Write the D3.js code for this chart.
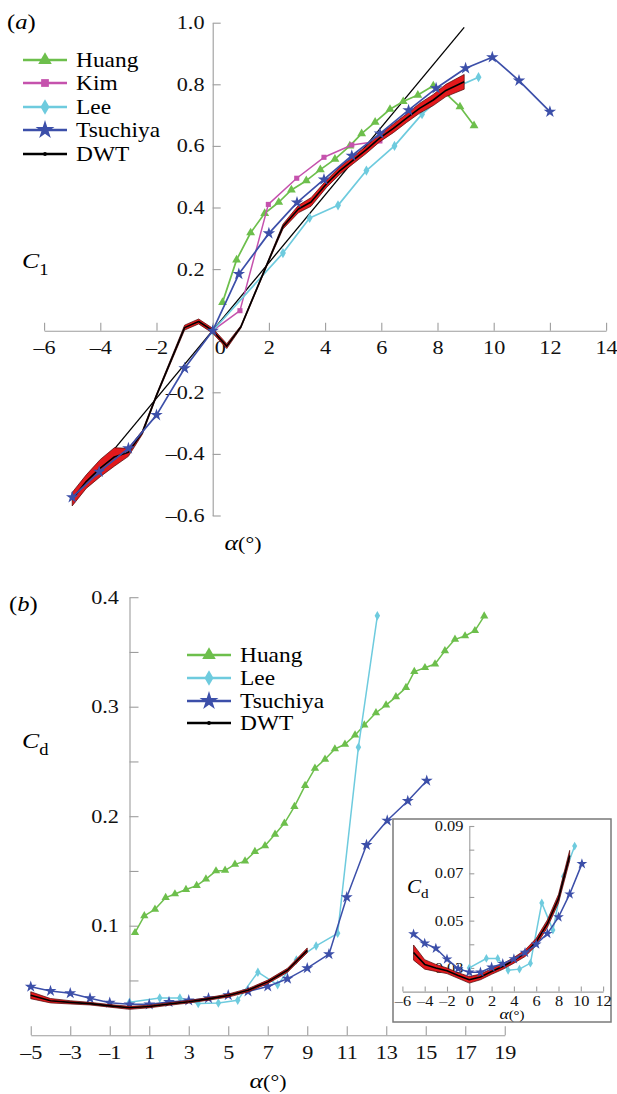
<!DOCTYPE html>
<html>
<head>
<meta charset="utf-8">
<script src="https://cdn.jsdelivr.net/npm/d3@7"></script>
<style>
  body { margin: 0; background: #fff; }
  svg { display: block; font-family: "Liberation Serif", "Times New Roman", serif; }
</style>
</head>
<body>
<svg id="fig" width="617" height="1094"></svg>
<script>
// ---- panel (a): lift coefficient vs angle of attack ----
const huangA = [[0.35,0.092],[0.85,0.23],[1.35,0.318],[1.85,0.381],[2.35,0.417],[2.8,0.457],
  [3.33,0.487],[3.83,0.523],[4.35,0.557],[4.88,0.60],[5.3,0.64],[5.78,0.677],[6.31,0.719],
  [6.78,0.744],[7.3,0.765],[7.85,0.795],[8.3,0.77],[8.8,0.727],[9.3,0.666]];
const kimA = [[0,0],[0.97,0.065],[1.98,0.41],[2.99,0.495],[3.96,0.563],[4.95,0.603],[5.95,0.616]];
const leeA = [[0,0],[2.5,0.252],[3.45,0.366],[4.46,0.407],[5.47,0.52],[6.47,0.60],[7.45,0.703],
  [8.42,0.781],[9.46,0.823]];
const tsuchiyaA = [[-5,-0.541],[-4.04,-0.458],[-3,-0.382],[-2,-0.274],[-1,-0.122],[0,0],[0.93,0.184],
  [2,0.316],[3,0.416],[3.96,0.491],[4.95,0.568],[5.95,0.64],[6.97,0.716],[7.95,0.787],[9,0.852],
  [9.95,0.888],[10.9,0.812],[12,0.711]];
// DWT: [alpha, mean, half width of the red band]
const dwtA = [[-5,-0.547,0.022],[-4.5,-0.49,0.022],[-4,-0.446,0.028],[-3.5,-0.41,0.03],[-3,-0.395,0.013],
  [-2.5,-0.33,0.006],[-2,-0.21,0.004],[-1,0.01,0.008],[-0.5,0.03,0.008],[0,0,0.008],[0.5,-0.05,0.008],
  [1,0.012,0.004],[2,0.23,0.004],[2.5,0.338,0.008],[3.05,0.395,0.012],[3.5,0.418,0.014],[4.06,0.478,0.012],
  [4.53,0.52,0.012],[5,0.554,0.012],[5.46,0.587,0.012],[5.94,0.625,0.012],[6.43,0.657,0.014],
  [6.9,0.69,0.014],[7.36,0.722,0.016],[7.85,0.749,0.018],[8.3,0.78,0.02],[8.95,0.808,0.024]];
// thin straight reference line
const thinA = [[-5,-0.549],[8.95,0.985]];
const xTicksA = [-6,-4,-2,0,2,4,6,8,10,12,14];
const yTicksA = [-0.6,-0.4,-0.2,0.2,0.4,0.6,0.8,1.0];

// ---- panel (b): drag coefficient vs angle of attack ----
const huangB = [[0.28,0.0936],[0.75,0.109],[1.29,0.115],[1.83,0.1256],[2.3,0.129],[2.86,0.133],
  [3.4,0.1366],[3.87,0.1426],[4.38,0.15],[4.84,0.1505],[5.34,0.156],[5.85,0.159],[6.35,0.1676],
  [6.86,0.173],[7.37,0.1835],[7.84,0.1935],[8.35,0.2087],[8.89,0.228],[9.39,0.2437],[9.9,0.252],
  [10.4,0.2614],[10.91,0.2657],[11.42,0.274],[11.89,0.2833],[12.48,0.2945],[12.99,0.3015],
  [13.49,0.309],[14.0,0.3174],[14.42,0.332],[14.96,0.3356],[15.47,0.339],[15.97,0.351],
  [16.48,0.3615],[16.99,0.3646],[17.49,0.3694],[17.96,0.3828]];
const leeB = [[0,0.03],[1.53,0.034],[2.55,0.034],[3.48,0.029],[4.5,0.0295],[5.48,0.032],[6.5,0.0575],
  [7.5,0.046],[8.45,0.0687],[9.45,0.0815],[10.54,0.093],[11.59,0.263],[12.55,0.383]];
const tsuchiyaB = [[-5,0.0443],[-4,0.0404],[-3,0.0383],[-2,0.0337],[-1,0.0297],[0,0.0282],[1,0.0282],
  [2,0.0303],[3,0.0318],[4,0.0338],[5,0.0365],[6,0.0400],[7,0.0445],[8,0.0515],[9,0.0612],
  [10.1,0.074],[11,0.126],[12,0.1737],[13.05,0.196],[14.09,0.2139],[15.05,0.2324]];
const dwtB = [[-5,0.0365,0.0032],[-4,0.0315,0.002],[-3,0.0300,0.0015],[-2,0.0288,0.0012],
  [-1,0.0268,0.0012],[0,0.0250,0.0014],[1,0.0262,0.0012],[2,0.0285,0.0012],[3,0.0306,0.0012],
  [4,0.0332,0.0012],[5,0.0362,0.0014],[6,0.041,0.0015],[7,0.0487,0.0016],[8,0.0593,0.0018],
  [9,0.0775,0.0022]];
const xTicksB = [-5,-3,-1,1,3,5,7,9,11,13,15,17,19];
const yTicksB = [0.05,0.1,0.15,0.2,0.25,0.3,0.35,0.4];
const yLabelsB = [0.1,0.2,0.3,0.4];
// inset
const xTicksI = [-6,-4,-2,0,2,4,6,8,10,12];
const yTicksI = [0.03,0.04,0.05,0.06,0.07,0.08,0.09];
const yLabelsI = [0.03,0.05,0.07,0.09];

const colors = { Huang: "#6dbf4c", Kim: "#c552ad", Lee: "#6ecbde", Tsuchiya: "#3c4fa9", DWT: "#000" };
const symbols = { Huang: d3.symbolTriangle, Kim: d3.symbolSquare, Lee: d3.symbolDiamond,
  Tsuchiya: d3.symbolStar, DWT: d3.symbolCircle };

const SX = 1.17;  // glyphs in the figure are a bit wider than Times
const axisGrey = "#9d9d9d";
const svg = d3.select("#fig");
const dash = s => s.replace("-", "–").replace("−", "–");

function addText(parent, x, y, size, anchor) {
  return parent.append("text")
      .attr("transform", `translate(${x},${y}) scale(${SX},1)`)
      .attr("font-size", size)
      .attr("text-anchor", anchor || "start");
}

function styleAxis(g, size) {
  g.attr("font-family", null).attr("font-size", size);
  g.selectAll("path, line").attr("stroke", axisGrey).attr("stroke-width", 1.1);
  g.selectAll("text").attr("fill", "#111").attr("transform", `scale(${SX},1)`);
}

function drawLine(g, x, y, data, color, width, symbol, size) {
  const line = d3.line().x(d => x(d[0])).y(d => y(d[1]));
  g.append("path").datum(data).attr("d", line)
      .attr("fill", "none").attr("stroke", color).attr("stroke-width", width)
      .attr("stroke-linejoin", "round");
  if (symbol) {
    g.selectAll(null).data(data).join("path")
        .attr("d", d3.symbol().type(symbol).size(size))
        .attr("transform", d => `translate(${x(d[0])},${y(d[1])})`)
        .attr("fill", color);
  }
}

function drawBand(g, x, y, data) {
  const area = d3.area().x(d => x(d[0])).y0(d => y(d[1] - d[2])).y1(d => y(d[1] + d[2]));
  g.append("path").datum(data).attr("d", area)
      .attr("fill", "#e3191c").attr("stroke", "#4a0606").attr("stroke-width", 0.7);
  drawLine(g, x, y, data, "#000", 1.6, null);
}

function legend(g, x0, rows, names, size) {
  names.forEach((n, i) => {
    const yy = rows[i];
    g.append("line").attr("x1", x0).attr("x2", x0 + 44).attr("y1", yy).attr("y2", yy)
        .attr("stroke", colors[n]).attr("stroke-width", 2.4);
    const msize = { Huang: 80, Kim: 60, Lee: 70, Tsuchiya: 110, DWT: 12 }[n];
    g.append("path").attr("d", d3.symbol().type(symbols[n]).size(msize))
        .attr("transform", `translate(${x0 + 22},${yy})`).attr("fill", colors[n]);
    addText(g, x0 + 53, yy + 7, size).text(n);
  });
}

function coefLabel(g, x, y, sub, size) {
  const t = addText(g, x, y, size);
  t.append("tspan").attr("font-style", "italic").text("C");
  t.append("tspan").attr("font-size", size * 0.72).attr("dy", size * 0.3).text(sub);
}

function alphaLabel(g, x, y, size) {
  const t = addText(g, x, y, size, "middle");
  t.append("tspan").attr("font-style", "italic").text("α");
  t.append("tspan").attr("font-size", size * 0.85).text("(°)");
}

// ================= panel (a) =================
const gA = svg.append("g");
const xA = d3.scaleLinear().domain([-6, 14]).range([44.1, 606.1]);
const yA = d3.scaleLinear().domain([-0.6, 1.0]).range([515.5, 22.7]);

const axA = gA.append("g").attr("transform", `translate(0,${yA(0)})`)
    .call(d3.axisBottom(xA).tickValues(xTicksA).tickSizeInner(-8).tickSizeOuter(0)
        .tickPadding(10).tickFormat(d => dash(String(d))));
styleAxis(axA, 19);
axA.selectAll(".tick").filter(d => d === 0).select("text").attr("x", 6);

const ayA = gA.append("g").attr("transform", `translate(${xA(0)},0)`)
    .call(d3.axisLeft(yA).tickValues(yTicksA).tickSizeInner(-8).tickSizeOuter(0)
        .tickPadding(7).tickFormat(d => dash(d3.format(".1f")(d))));
styleAxis(ayA, 19);

drawLine(gA, xA, yA, thinA, "#000", 1.3, null);
drawLine(gA, xA, yA, huangA, colors.Huang, 1.7, symbols.Huang, 34);
drawLine(gA, xA, yA, kimA, colors.Kim, 1.5, symbols.Kim, 26);
drawLine(gA, xA, yA, leeA, colors.Lee, 1.7, symbols.Lee, 30);
drawBand(gA, xA, yA, dwtA);
drawLine(gA, xA, yA, tsuchiyaA, colors.Tsuchiya, 1.7, symbols.Tsuchiya, 48);

legend(gA, 23, [60, 83, 107, 130, 154], ["Huang", "Kim", "Lee", "Tsuchiya", "DWT"], 20);

const pa = addText(gA, 7, 29, 21);
pa.append("tspan").text("(");
pa.append("tspan").attr("font-style", "italic").text("a");
pa.append("tspan").text(")");
coefLabel(gA, 22, 268, "1", 22);
alphaLabel(gA, 243, 550, 22);

// ================= panel (b) =================
const gB = svg.append("g");
const xB = d3.scaleLinear().domain([-5, 19]).range([30.75, 504.75]);
const yB = d3.scaleLinear().domain([0, 0.4]).range([1035.2, 597.2]);

const axB = gB.append("g").attr("transform", `translate(0,${yB(0)})`)
    .call(d3.axisBottom(xB).tickValues(xTicksB).tickSizeInner(-9).tickSizeOuter(0)
        .tickPadding(10).tickFormat(d => dash(String(d))));
styleAxis(axB, 19);

const ayB = gB.append("g").attr("transform", `translate(${xB(0)},0)`)
    .call(d3.axisLeft(yB).tickValues(yTicksB).tickSizeInner(-9).tickSizeOuter(0)
        .tickPadding(9).tickFormat(d => yLabelsB.includes(d) ? d3.format(".1f")(d) : ""));
styleAxis(ayB, 19);

drawLine(gB, xB, yB, huangB, colors.Huang, 1.5, symbols.Huang, 30);
drawLine(gB, xB, yB, leeB, colors.Lee, 1.5, symbols.Lee, 26);
drawLine(gB, xB, yB, tsuchiyaB, colors.Tsuchiya, 1.5, symbols.Tsuchiya, 44);
drawBand(gB, xB, yB, dwtB);

legend(gB, 187, [655, 678, 701, 723], ["Huang", "Lee", "Tsuchiya", "DWT"], 20);

const pb = addText(gB, 9, 611, 21);
pb.append("tspan").text("(");
pb.append("tspan").attr("font-style", "italic").text("b");
pb.append("tspan").text(")");
coefLabel(gB, 22, 748, "d", 22);
alphaLabel(gB, 268, 1088, 22);

// ---- inset ----
const gI = svg.append("g");
gI.append("rect").attr("x", 393).attr("y", 819).attr("width", 218).attr("height", 203)
    .attr("fill", "#fff").attr("stroke", "#7a7a7a").attr("stroke-width", 1.5);
const xI = d3.scaleLinear().domain([-6, 12]).range([402.4, 603.1]);
const yI = d3.scaleLinear().domain([0.02, 0.09]).range([991.6, 826]);

const axI = gI.append("g").attr("transform", `translate(0,${yI(0.02)})`)
    .call(d3.axisBottom(xI).tickValues(xTicksI).tickSizeInner(-5).tickSizeOuter(0)
        .tickPadding(4).tickFormat(d => dash(String(d))));
styleAxis(axI, 14);
const ayI = gI.append("g").attr("transform", `translate(${xI(0)},0)`)
    .call(d3.axisLeft(yI).tickValues(yTicksI).tickSizeInner(-5).tickSizeOuter(0)
        .tickPadding(5).tickFormat(d => yLabelsI.some(v => Math.abs(v - d) < 1e-9) ? d3.format(".2f")(d) : ""));
styleAxis(ayI, 14);

const clipIn = leeB.filter(d => d[0] <= 10);
drawLine(gI, xI, yI, clipIn, colors.Lee, 1.5, symbols.Lee, 22);
drawBand(gI, xI, yI, dwtB);
drawLine(gI, xI, yI, tsuchiyaB.filter(d => d[0] <= 10.5), colors.Tsuchiya, 1.5, symbols.Tsuchiya, 36);

coefLabel(gI, 407, 893, "d", 18);
alphaLabel(gI, 512, 1019, 15);
</script>
</body>
</html>
